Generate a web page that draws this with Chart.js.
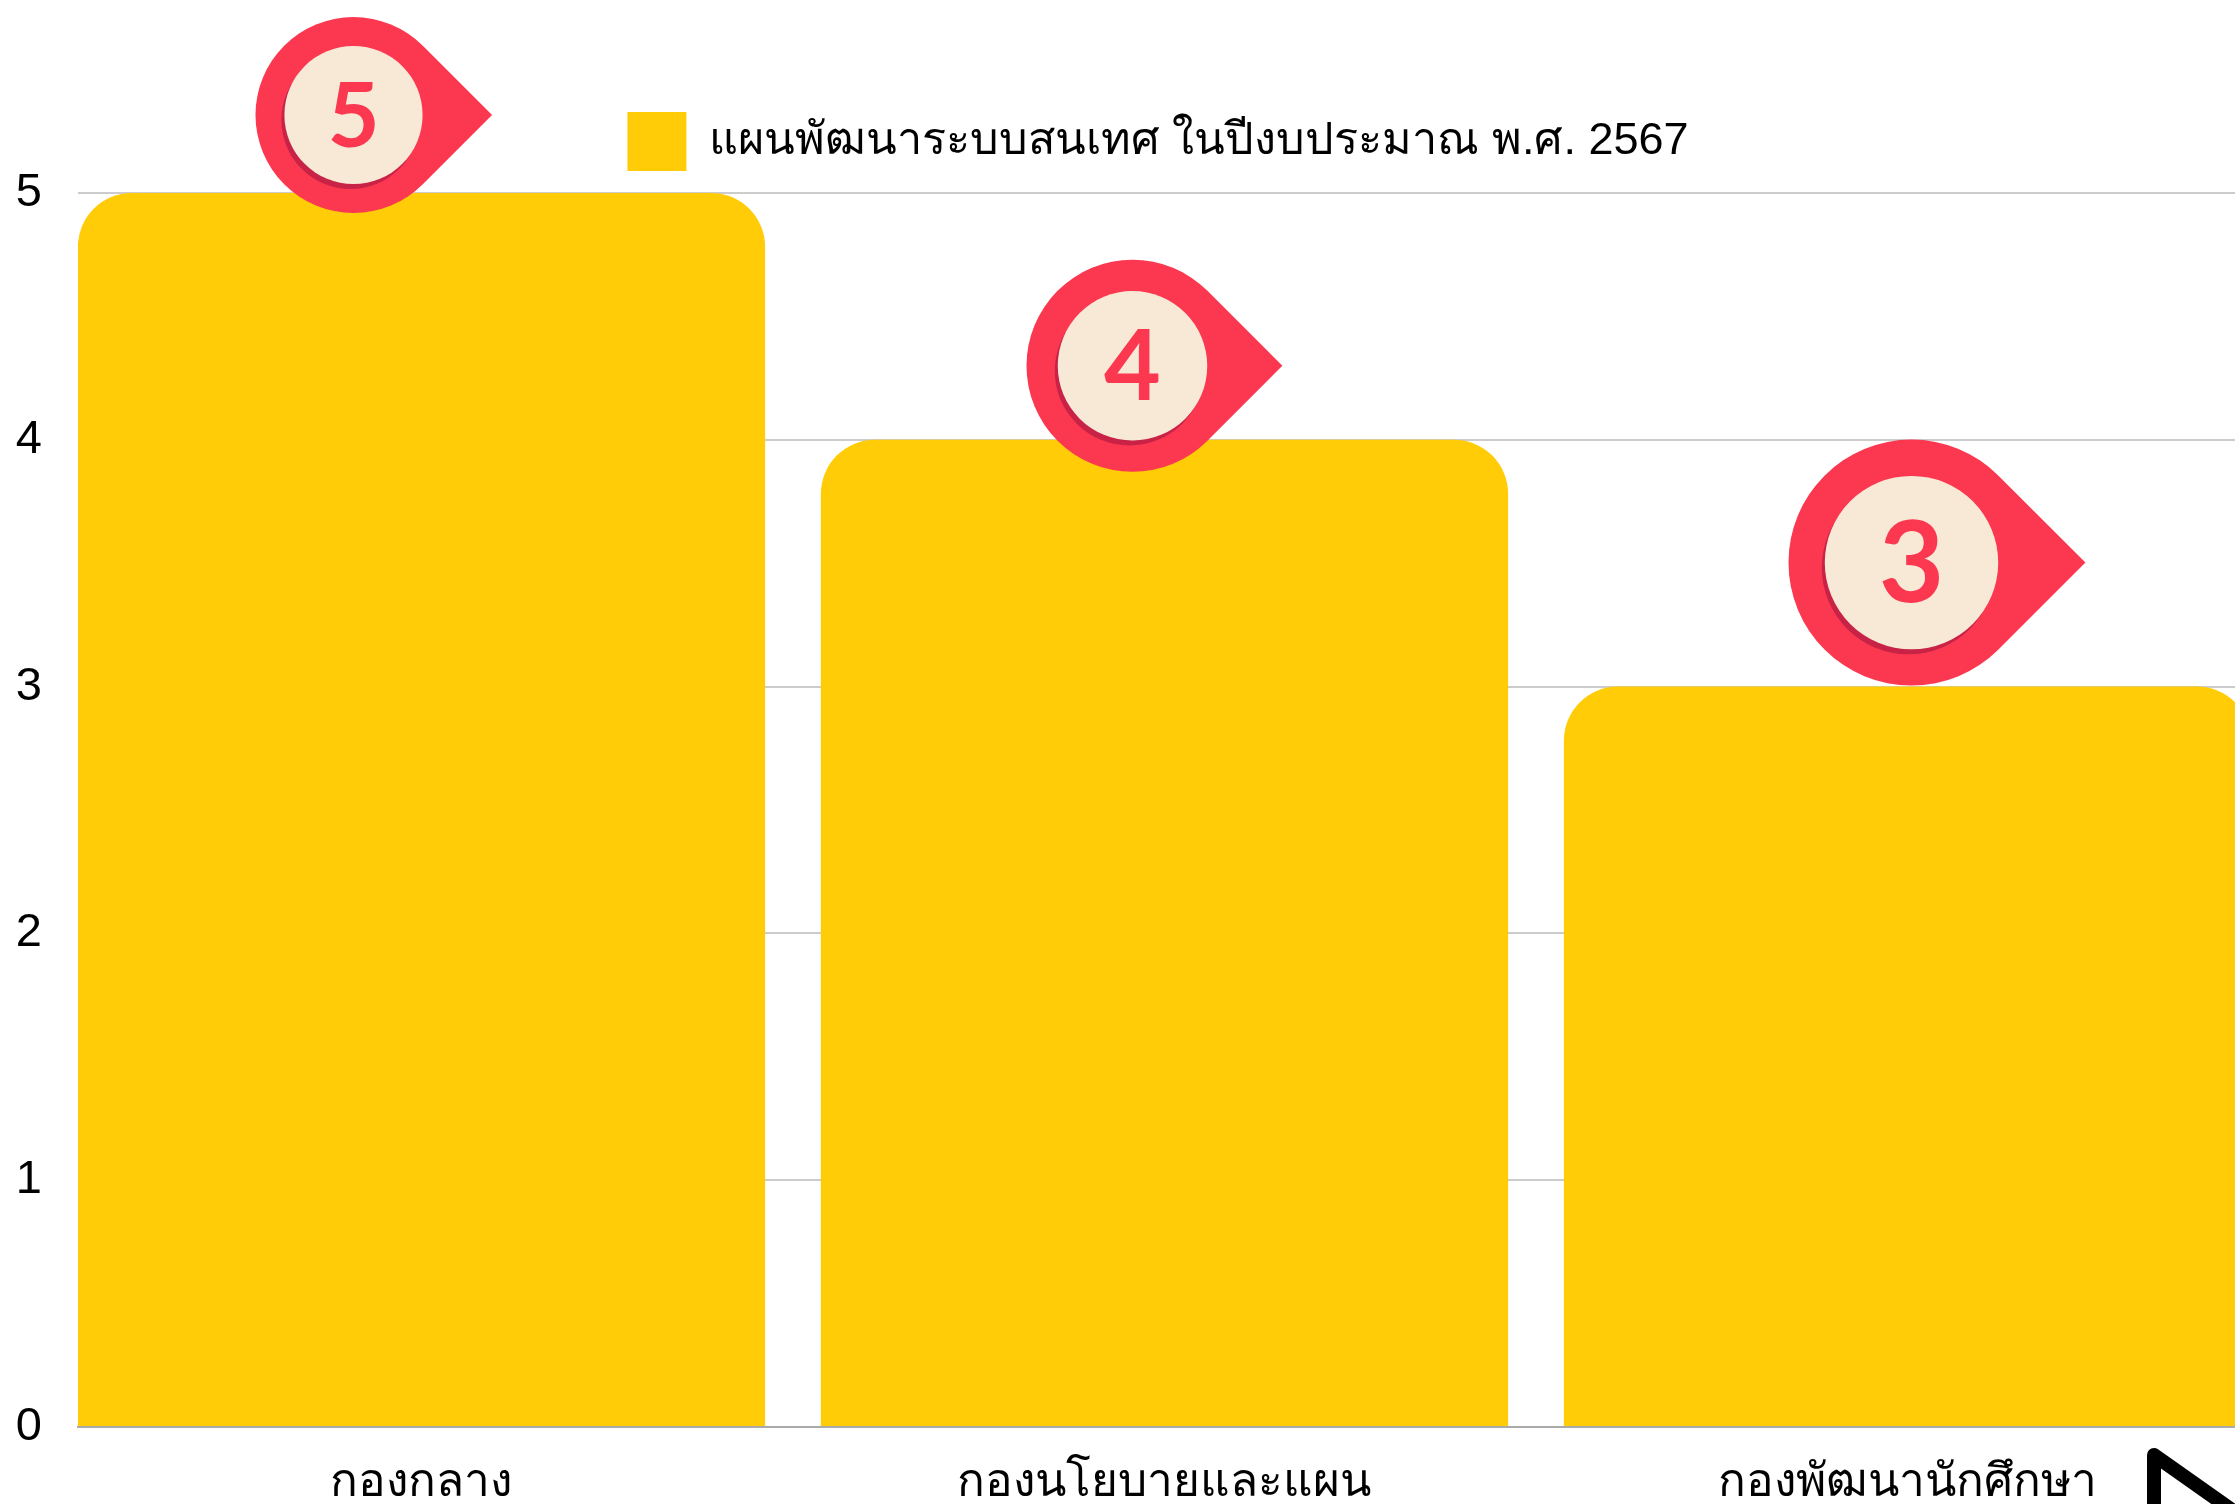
<!DOCTYPE html>
<html>
<head>
<meta charset="utf-8">
<title>แผนพัฒนาระบบสนเทศ</title>
<script src="https://cdn.jsdelivr.net/npm/chart.js@4"></script>
<style>
    html, body { margin: 0; padding: 0; background: #fff; overflow: hidden; }
    canvas { display: block; }
</style>
</head>
<body>
<canvas id="planChart" width="2316" height="1504"></canvas>
<script>
// Data
const categories = ["กองกลาง", "กองนโยบายและแผน", "กองพัฒนานักศึกษา"];
const planCounts = [5, 4, 3];
const seriesLabel = "แผนพัฒนาระบบสนเทศ ในปีงบประมาณ พ.ศ. 2567";

const fontFamily = "'Liberation Sans', 'Noto Sans', sans-serif";

// Pin badge layout: offset from the top centre of each bar, and radius
const pinDx = [-68, -32, 4];
const pinDy = [-78, -74, -124];
const pinRadius = [98, 106, 123];

// Draws the number badges and the cut off play icon in the corner
const pinPlugin = {
    id: "pins",
    afterLayout(chart) {
        // legend sits a bit higher above the plot than the default gap
        chart.legend.top -= 12;
    },
    afterDatasetsDraw(chart) {
        const ctx = chart.ctx;
        const x = chart.scales.x;
        const y = chart.scales.y;
        planCounts.forEach(function (value, i) {
            const cx = x.getPixelForValue(i) + pinDx[i];
            const cy = y.getPixelForValue(value) + pinDy[i];
            const r = pinRadius[i];
            const inner = r * 0.705;
            ctx.save();
            // teardrop: circle plus a square corner pointing right
            ctx.fillStyle = "#FB3850";
            ctx.beginPath();
            ctx.arc(cx, cy, r, -Math.PI / 4, Math.PI / 4, true);
            ctx.lineTo(cx + r * Math.SQRT2, cy);
            ctx.closePath();
            ctx.fill();
            ctx.fillStyle = "#C82246";
            ctx.beginPath();
            ctx.arc(cx - 3, cy + 5, inner, 0, Math.PI * 2);
            ctx.fill();
            ctx.fillStyle = "#F8E9D6";
            ctx.beginPath();
            ctx.arc(cx, cy, inner, 0, Math.PI * 2);
            ctx.fill();
            ctx.fillStyle = "#FB3850";
            ctx.font = "700 " + Math.round(r * 0.92) + "px Lato, sans-serif";
            ctx.textAlign = "center";
            ctx.textBaseline = "middle";
            ctx.fillText(String(value), cx, cy + 3);
            ctx.restore();
        });

        ctx.save();
        ctx.strokeStyle = "#000";
        ctx.lineWidth = 14;
        ctx.lineJoin = "round";
        ctx.beginPath();
        ctx.moveTo(2154, 1600);
        ctx.lineTo(2154, 1455);
        ctx.lineTo(2300, 1558);
        ctx.stroke();
        ctx.restore();
    }
};

const ctx = document.getElementById("planChart").getContext("2d");
new Chart(ctx, {
    type: "bar",
    data: {
        datasets: [{
            label: seriesLabel,
            data: planCounts.map(function (value, i) { return { x: i, y: value }; }),
            backgroundColor: "#FFCC07",
            barPercentage: 0.925,
            categoryPercentage: 1,
            borderRadius: { topLeft: 54, topRight: 54, bottomLeft: 0, bottomRight: 0 },
            borderSkipped: false
        }]
    },
    options: {
        responsive: false,
        animation: false,
        layout: { padding: { top: 78 } },
        plugins: {
            tooltip: { enabled: false },
            legend: {
                position: "top",
                labels: {
                    boxWidth: 59,
                    boxHeight: 59,
                    padding: 22,
                    color: "#000",
                    font: { family: fontFamily, size: 45 }
                }
            }
        },
        scales: {
            x: {
                type: "linear",
                offset: false,
                min: -0.4623,
                max: 2.5498,
                afterFit: function (scale) { scale.height = 77; },
                grid: { display: false },
                border: { color: "#AAAAAA", width: 2 },
                ticks: {
                    stepSize: 1,
                    includeBounds: false,
                    autoSkip: false,
                    maxRotation: 0,
                    padding: 21,
                    color: "#000",
                    font: { family: fontFamily, size: 46 },
                    callback: function (value) { return categories[value]; }
                }
            },
            y: {
                min: 0,
                max: 5,
                afterFit: function (scale) {
                    scale.width = 78;
                    // keeps the plot top below the legend
                    scale.paddingTop = 193;
                },
                grid: { color: "#CCCCCC", lineWidth: 2, drawTicks: false },
                border: { display: false },
                ticks: {
                    stepSize: 1,
                    padding: 36,
                    color: "#000",
                    font: { family: fontFamily, size: 47 }
                }
            }
        }
    },
    plugins: [pinPlugin]
});
</script>
</body>
</html>
